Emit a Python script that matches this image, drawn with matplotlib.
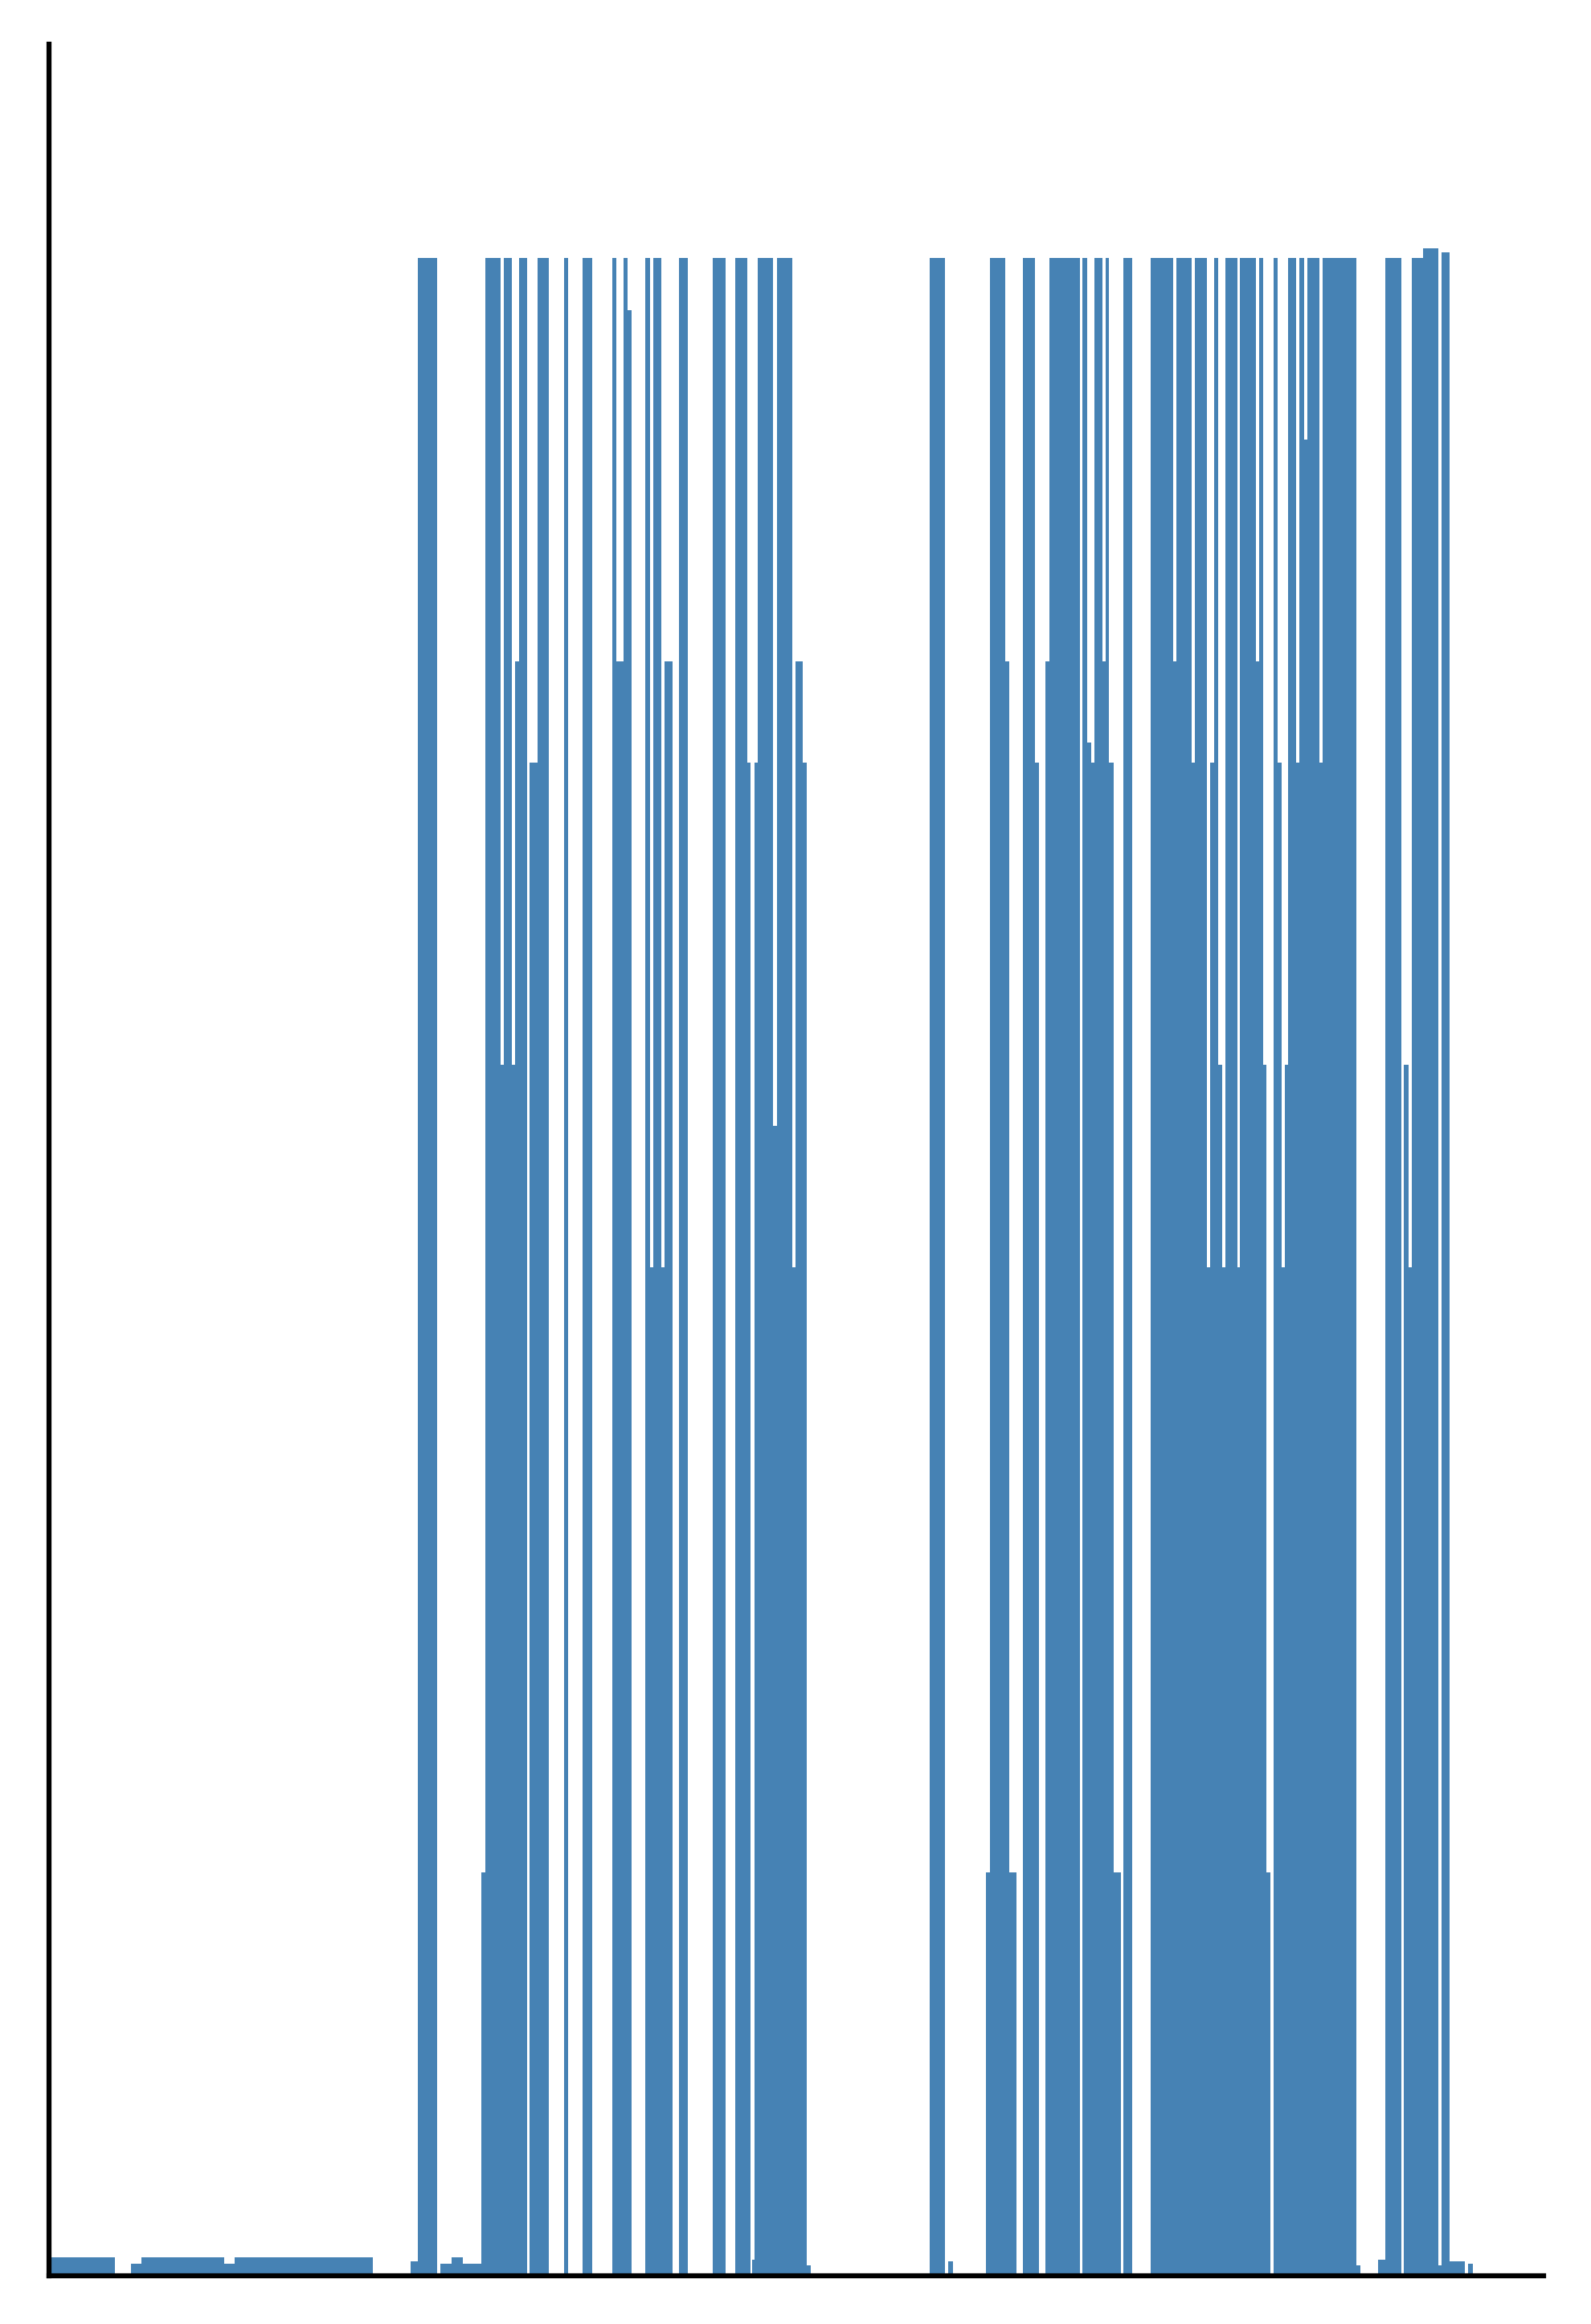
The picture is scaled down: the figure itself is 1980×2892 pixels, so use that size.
import numpy as np
import matplotlib
matplotlib.use("Agg")
import matplotlib.pyplot as plt

# level of each run (percent) and how long it lasts (time units)
levels = [
    0.9, 0, 0.6, 0.9, 0.6, 0.9, 0, 0.7, 100, 0,
    0.6, 0.9, 0.6, 20, 100, 60, 100, 60, 80, 100,
    0, 75, 100, 0, 100, 0, 100, 0, 100, 80,
    100, 97.4, 0, 100, 50, 100, 50, 80, 0, 100,
    0, 100, 0, 100, 75, 0, 0.8, 75, 100, 57,
    100, 50, 80, 75, 0.5, 0, 100, 0, 0.7, 0,
    20, 100, 80, 20, 0, 100, 75, 0, 80, 100,
    0, 100, 76, 75, 100, 80, 100, 75, 20, 0,
    100, 0, 100, 80, 100, 75, 100, 50, 75, 100,
    60, 50, 100, 50, 100, 80, 100, 60, 20, 0,
    100, 75, 50, 60, 100, 75, 100, 91, 100, 75,
    100, 0.5, 0, 0.8, 100, 0, 60, 50, 100, 100.5,
    0.5, 100.3, 0.7, 0, 0.6,
]
durations = [
    82, 20, 13, 103, 13, 172, 47, 9, 24, 4,
    14, 14, 23, 5, 19, 4, 10, 4, 5, 10,
    3, 10, 14, 19, 5, 18, 12, 25, 5, 9,
    5, 5, 17, 6, 4, 10, 4, 10, 8, 11,
    31, 16, 12, 15, 4, 2, 3, 4, 19, 5,
    19, 4, 9, 5, 5, 148, 19, 4, 6, 41,
    5, 19, 5, 9, 8, 15, 5, 8, 5, 38,
    3, 6, 5, 4, 10, 4, 4, 6, 9, 3,
    11, 23, 28, 4, 19, 4, 15, 4, 5, 5,
    5, 4, 15, 3, 20, 4, 5, 4, 5, 4,
    5, 5, 4, 4, 10, 4, 6, 4, 15, 4,
    42, 5, 22, 9, 20, 3, 6, 4, 14, 19,
    4, 10, 19, 4, 6,
]

x_end = 1860
y_top = 110.6

edges = np.concatenate([[0], np.cumsum(durations)])
vals = np.append(levels, levels[-1])

fig = plt.figure(figsize=(6.6, 9.64), dpi=300)
ax = fig.add_axes([61 / 1980, 1 - 2832 / 2892, 1860 / 1980, 2777 / 2892])

ax.fill_between(edges, 0, vals, step="post", color="steelblue", linewidth=0)

ax.set_xlim(0, x_end)
ax.set_ylim(0, y_top)
ax.set_xticks([])
ax.set_yticks([])
for side in ["top", "right"]:
    ax.spines[side].set_visible(False)
for side in ["left", "bottom"]:
    ax.spines[side].set_linewidth(1.5)
    ax.spines[side].set_color("black")

fig.savefig("out.png", dpi=300)
